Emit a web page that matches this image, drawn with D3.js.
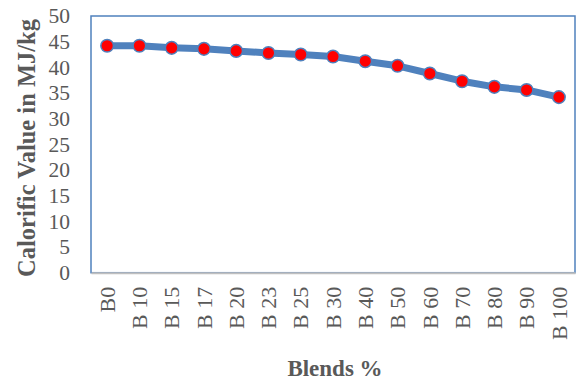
<!DOCTYPE html>
<html>
<head>
<meta charset="utf-8">
<script src="https://cdn.jsdelivr.net/npm/d3@7"></script>
<style>
  body { margin: 0; background: #fff; }
  svg { display: block; }
  text { font-family: "Liberation Serif", "Times New Roman", serif; fill: #595959; }
</style>
</head>
<body>
<svg id="chart" width="576" height="381"></svg>
<script>
const categories = ["B0","B 10","B 15","B 17","B 20","B 23","B 25","B 30","B 40","B 50","B 60","B 70","B 80","B 90","B 100"];
const calorificValues = [44.2, 44.2, 43.8, 43.6, 43.2, 42.8, 42.5, 42.1, 41.2, 40.3, 38.8, 37.3, 36.2, 35.6, 34.2];
const yTicks = [0, 5, 10, 15, 20, 25, 30, 35, 40, 45, 50];
const xTitle = "Blends %";
const yTitle = "Calorific Value in MJ/kg";

const svg = d3.select("#chart");
const m = { left: 91, top: 16, right: 575, bottom: 272.7 };

const x = d3.scaleBand().domain(categories).range([m.left, m.right]);
const y = d3.scaleLinear().domain([0, 50]).range([m.bottom, m.top]);

// plot area border
svg.append("rect")
  .attr("x", m.left).attr("y", m.top)
  .attr("width", m.right - m.left).attr("height", m.bottom - m.top)
  .attr("fill", "none").attr("stroke", "#4F81BD").attr("stroke-width", 1.5);

// y axis labels
const yAxis = svg.append("g").attr("transform", `translate(${m.left},0)`)
  .call(d3.axisLeft(y).tickValues(yTicks).tickSize(0).tickPadding(21));
yAxis.select(".domain").remove();
yAxis.selectAll("text")
  .style("font-family", '"Liberation Serif", serif')
  .style("font-size", "21.5px").attr("fill", "#595959");

// x axis
const xAxis = svg.append("g").attr("transform", `translate(0,${m.bottom})`)
  .call(d3.axisBottom(x).tickSize(0));
xAxis.select(".domain").attr("stroke", "#BFBFBF").attr("stroke-width", 2);
xAxis.selectAll("text")
  .style("font-family", '"Liberation Serif", serif')
  .style("font-size", "22px").attr("fill", "#595959")
  .attr("text-anchor", "end")
  .attr("transform", "rotate(-90)")
  .attr("x", -14).attr("y", 0).attr("dy", "0.35em");

// line
const line = d3.line()
  .x((d, i) => x(categories[i]) + x.bandwidth() / 2)
  .y(d => y(d));
svg.append("path").datum(calorificValues)
  .attr("d", line).attr("fill", "none")
  .attr("stroke", "#4F81BD").attr("stroke-width", 7)
  .attr("stroke-linejoin", "round");

// markers
svg.selectAll("circle.pt").data(calorificValues).enter().append("circle")
  .attr("class", "pt")
  .attr("cx", (d, i) => x(categories[i]) + x.bandwidth() / 2)
  .attr("cy", d => y(d))
  .attr("r", 6.3)
  .attr("fill", "#FF0000").attr("stroke", "#4F81BD").attr("stroke-width", 1.5);

// titles
svg.append("text")
  .attr("x", 335).attr("y", 376)
  .attr("text-anchor", "middle")
  .style("font-size", "23px").style("font-weight", "bold")
  .text(xTitle);

svg.append("text")
  .attr("transform", `translate(35,148) rotate(-90)`)
  .attr("text-anchor", "middle")
  .style("font-size", "24.5px").style("font-weight", "bold")
  .text(yTitle);
</script>
</body>
</html>
